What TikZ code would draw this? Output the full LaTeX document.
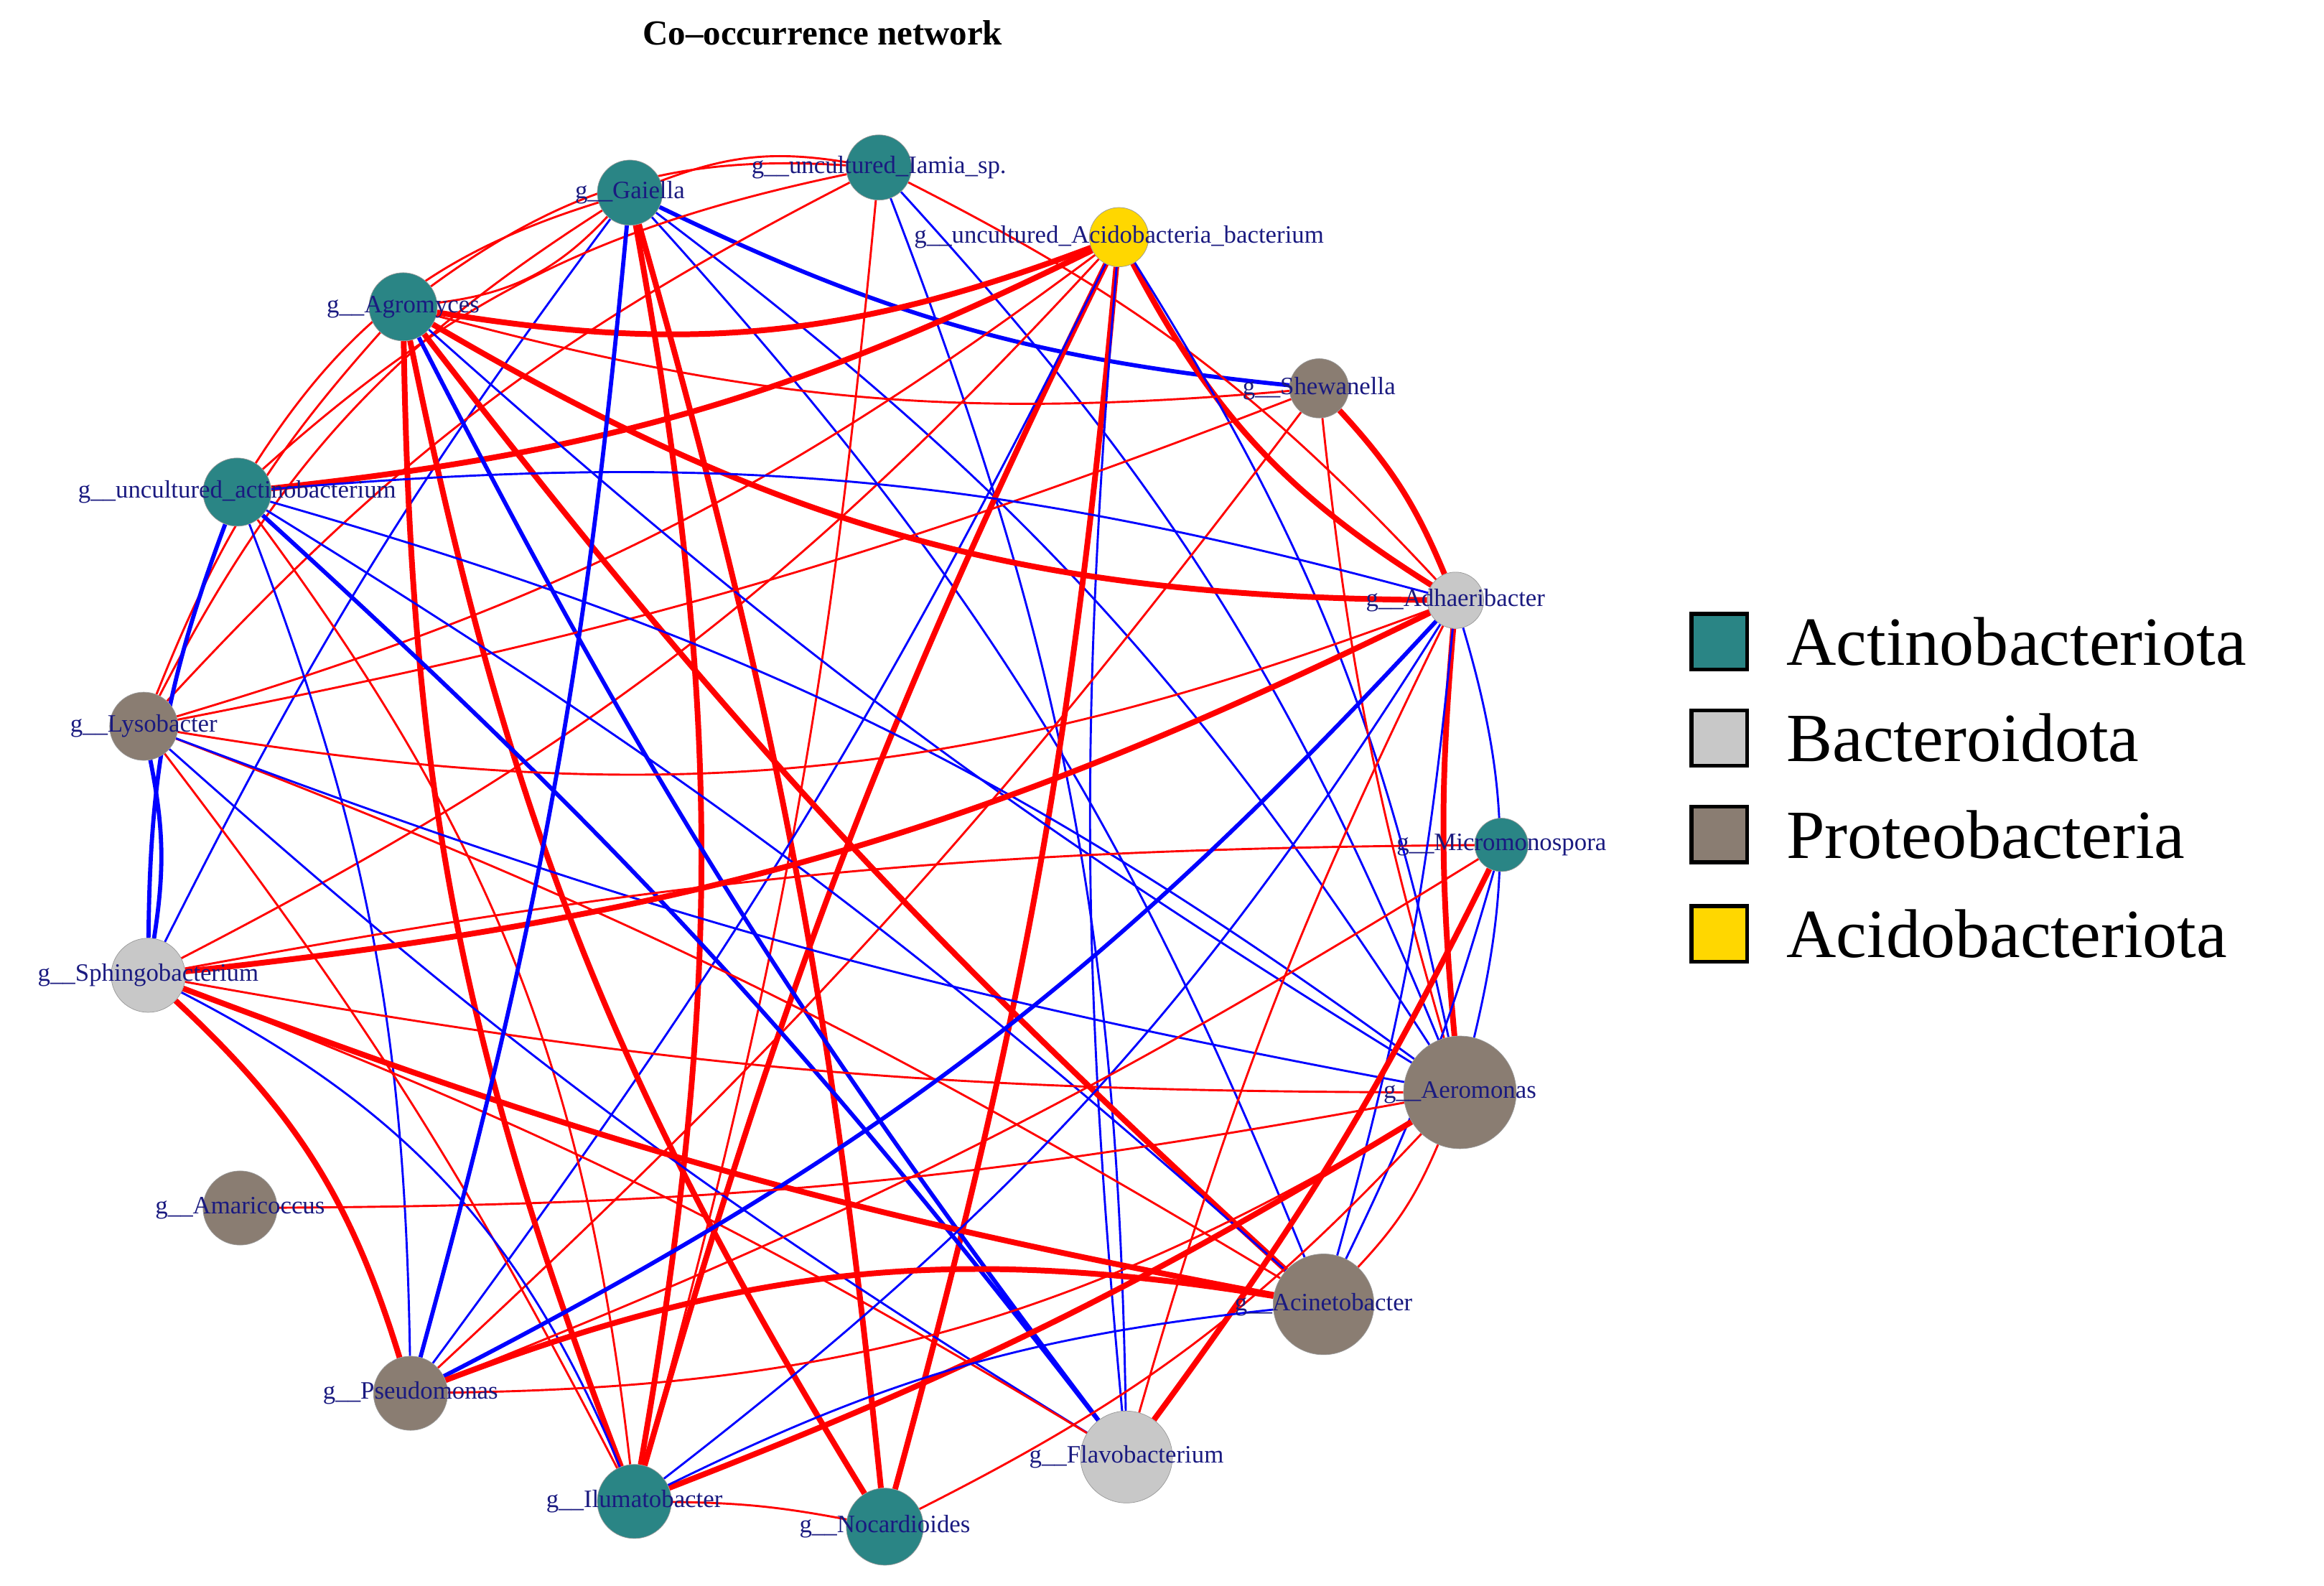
\documentclass[tikz,border=0pt]{standalone}
\usepackage{fontspec}
\setmainfont{Liberation Serif}
\usetikzlibrary{backgrounds}
\definecolor{actc}{HTML}{2A8585}
\definecolor{bacc}{HTML}{C8C8C8}
\definecolor{proc}{HTML}{8A7D72}
\definecolor{acdc}{HTML}{FFD700}
\definecolor{lblc}{HTML}{1A1A80}
\begin{document}
\begin{tikzpicture}[x=0.02cm,y=-0.02cm,
	main node/.style={circle,inner sep=0pt,draw=black!40,line width=0.2pt},
	lbl/.style={text=lblc,font=\fontsize{9.6}{10}\selectfont,inner sep=0pt},
	posL/.style={draw=red,line width=0.8pt},
	posT/.style={draw=red,line width=2.2pt},
	negL/.style={draw=blue,line width=0.8pt},
	negT/.style={draw=blue,line width=1.6pt},
	leg/.style={draw=black,line width=1.5pt,minimum size=0.75cm,inner sep=0pt}]
\useasboundingbox (0,0) rectangle (1568,1070);

\node[font=\bfseries\fontsize{13.5}{15}\selectfont] (title) at (555,22) {Co--occurrence network};

\node[main node,fill=actc,minimum size=0.88cm,label={[lbl]center:g\_\_Gaiella}] (gai) at (425,130) {};
\node[main node,fill=actc,minimum size=0.88cm,label={[lbl]center:g\_\_uncultured\_Iamia\_sp.}] (iam) at (593,113) {};
\node[main node,fill=acdc,minimum size=0.8cm,label={[lbl]center:g\_\_uncultured\_Acidobacteria\_bacterium}] (aci) at (755,160) {};
\node[main node,fill=actc,minimum size=0.92cm,label={[lbl]center:g\_\_Agromyces}] (agr) at (272,207) {};
\node[main node,fill=proc,minimum size=0.8cm,label={[lbl]center:g\_\_Shewanella}] (she) at (890,262) {};
\node[main node,fill=actc,minimum size=0.92cm,label={[lbl]center:g\_\_uncultured\_actinobacterium}] (act) at (160,332) {};
\node[main node,fill=bacc,minimum size=0.76cm,label={[lbl]center:g\_\_Adhaeribacter}] (adh) at (982,405) {};
\node[main node,fill=proc,minimum size=0.92cm,label={[lbl]center:g\_\_Lysobacter}] (lys) at (97,490) {};
\node[main node,fill=actc,minimum size=0.72cm,label={[lbl]center:g\_\_Micromonospora}] (mic) at (1013,570) {};
\node[main node,fill=bacc,minimum size=1.0cm,label={[lbl]center:g\_\_Sphingobacterium}] (sph) at (100,658) {};
\node[main node,fill=proc,minimum size=1.52cm,label={[lbl]center:g\_\_Aeromonas}] (aer) at (985,737) {};
\node[main node,fill=proc,minimum size=1.0cm,label={[lbl]center:g\_\_Amaricoccus}] (ama) at (162,815) {};
\node[main node,fill=proc,minimum size=1.36cm,label={[lbl]center:g\_\_Acinetobacter}] (acn) at (893,880) {};
\node[main node,fill=proc,minimum size=1.0cm,label={[lbl]center:g\_\_Pseudomonas}] (pse) at (277,940) {};
\node[main node,fill=bacc,minimum size=1.24cm,label={[lbl]center:g\_\_Flavobacterium}] (fla) at (760,983) {};
\node[main node,fill=actc,minimum size=1.0cm,label={[lbl]center:g\_\_Ilumatobacter}] (ilu) at (428,1013) {};
\node[main node,fill=actc,minimum size=1.04cm,label={[lbl]center:g\_\_Nocardioides}] (noc) at (597,1030) {};

\begin{scope}[on background layer]
\path
	(gai) edge[posT,bend left=10] (ilu)
	      edge[posT,bend left=5] (noc)
	      edge[posL,bend left=20] (agr)
	      edge[posL,bend right=20] (act)
	      edge[posL,bend right=15] (lys)
	      edge[negL,bend right=5] (sph)
	      edge[negL,bend left=10] (aer)
	      edge[negL,bend left=10] (acn)
	      edge[negT,bend right=10] (she)
	      edge[posL,bend left=15] (iam)
	(iam) edge[posL,bend right=20] (agr)
	      edge[posL,bend right=15] (act)
	      edge[posL,bend right=10] (lys)
	      edge[posL,bend left=5] (ilu)
	      edge[negL,bend left=10] (aer)
	      edge[negL,bend left=10] (fla)
	      edge[posL,bend left=10] (adh)
	(aci) edge[posT,bend left=15] (agr)
	      edge[posT,bend left=10] (act)
	      edge[posL,bend left=10] (lys)
	      edge[posL,bend left=10] (sph)
	      edge[posT,bend right=5] (ilu)
	      edge[posT,bend left=5] (noc)
	      edge[posT,bend right=15] (adh)
	      edge[negL,bend right=5] (fla)
	      edge[negL,bend left=10] (aer)
	      edge[negL,bend left=5] (pse)
	(agr) edge[posT,bend right=10] (ilu)
	      edge[posT,bend right=10] (noc)
	      edge[posT,bend right=15] (adh)
	      edge[posT,bend right=5] (acn)
	      edge[negT,bend right=5] (fla)
	      edge[negL,bend right=5] (aer)
	      edge[posL,bend right=10] (lys)
	      edge[posL,bend right=10] (she)
	(she) edge[posT,bend left=10] (adh)
	      edge[posL,bend left=5] (pse)
	      edge[posL,bend right=5] (aer)
	      edge[posL,bend left=5] (lys)
	(act) edge[negT,bend right=10] (sph)
	      edge[negL,bend left=10] (pse)
	      edge[negT,bend left=5] (fla)
	      edge[negL,bend left=5] (acn)
	      edge[negL,bend left=10] (aer)
	      edge[posL,bend left=15] (ilu)
	      edge[negL,bend left=10] (adh)
	(lys) edge[negT,bend left=10] (sph)
	      edge[posL,bend right=15] (adh)
	      edge[negL,bend right=5] (fla)
	      edge[posL,bend left=5] (acn)
	      edge[posL,bend left=5] (ilu)
	      edge[negL,bend right=5] (aer)
	(sph) edge[posT,bend left=15] (pse)
	      edge[posT,bend right=5] (acn)
	      edge[posT,bend right=10] (adh)
	      edge[posL,bend left=5] (mic)
	      edge[posL,bend right=5] (aer)
	      edge[posL,bend left=5] (fla)
	      edge[negL,bend left=20] (ilu)
	(adh) edge[negT,bend left=10] (pse)
	      edge[posT,bend right=5] (aer)
	      edge[posL,bend right=5] (fla)
	      edge[negL,bend left=15] (aer)
	      edge[negL,bend left=5] (acn)
	      edge[negL,bend left=10] (ilu)
	(mic) edge[posT,bend left=5] (fla)
	      edge[negL,bend left=5] (acn)
	      edge[posL,bend left=5] (pse)
	(ama) edge[posL,bend right=5] (aer)
	(aer) edge[posT,bend left=5] (ilu)
	      edge[posL,bend left=10] (noc)
	      edge[posL,bend left=10] (acn)
	      edge[posL,bend left=15] (pse)
	(acn) edge[posT,bend right=15] (pse)
	      edge[negL,bend right=10] (ilu)
	(pse) edge[negT,bend right=5] (gai)
	(noc) edge[posL,bend right=5] (ilu);
\end{scope}

\node[leg,fill=actc] (l1) at (1160,433) {};
\node[leg,fill=bacc] (l2) at (1160,498) {};
\node[leg,fill=proc] (l3) at (1160,563) {};
\node[leg,fill=acdc] (l4) at (1160,630) {};
\foreach \n/\t in {l1/Actinobacteriota,l2/Bacteroidota,l3/Proteobacteria,l4/Acidobacteriota}
	\node[anchor=west,font=\fontsize{26.5}{29}\selectfont,inner sep=0pt] (t\n) at ([xshift=0.9cm]\n.center) {\t};
\end{tikzpicture}
\end{document}
